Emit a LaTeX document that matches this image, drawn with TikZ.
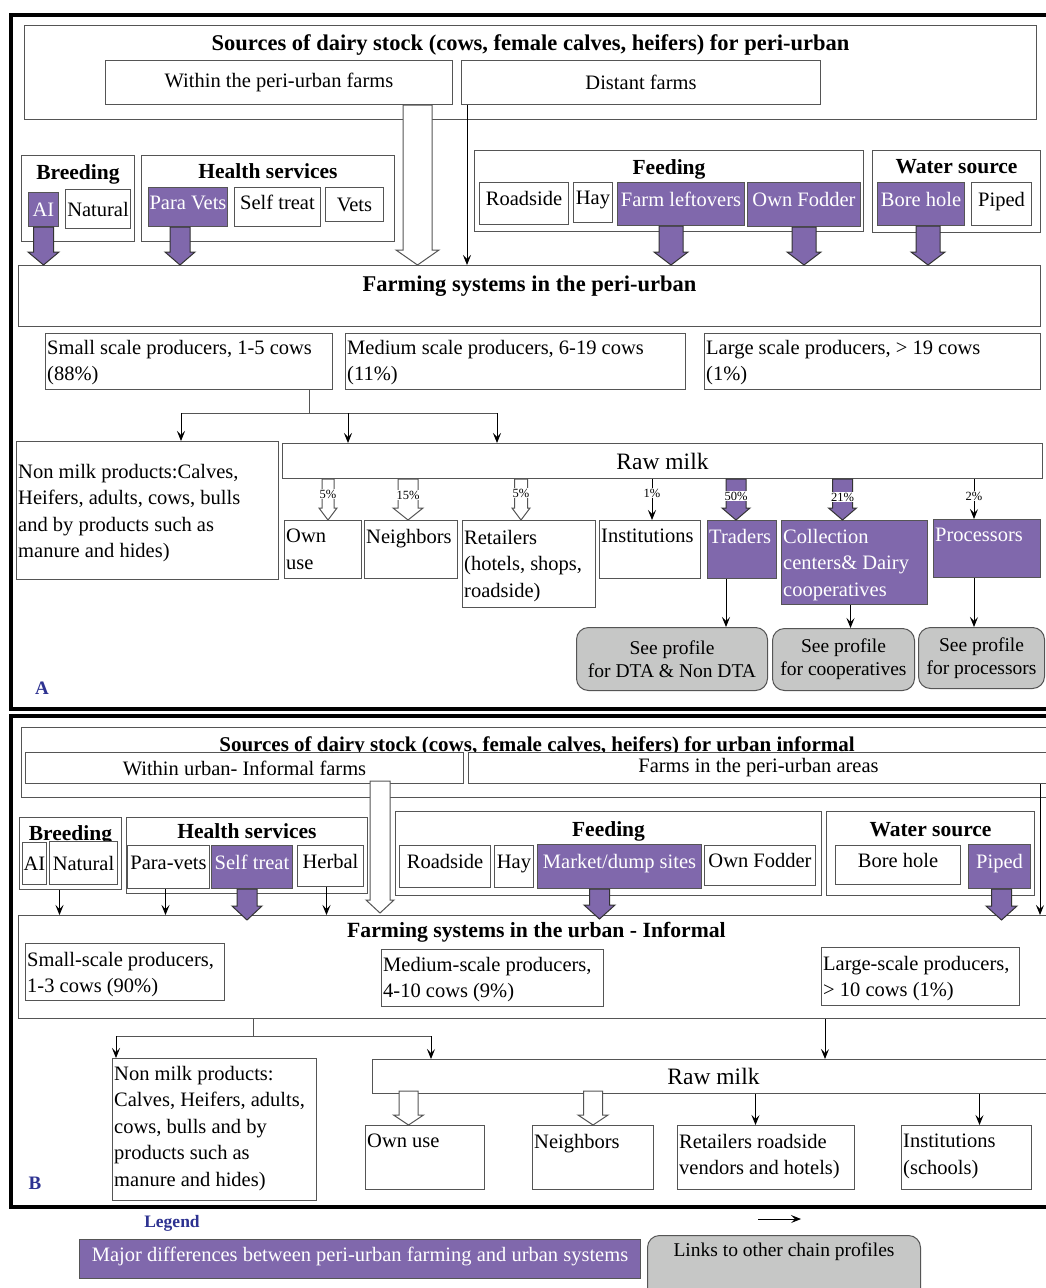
\documentclass[tikz,border=0pt]{standalone}
\usepackage{fontspec}
\setmainfont{Liberation Serif}
\usetikzlibrary{calc,arrows.meta}
\definecolor{purp}{RGB}{128,104,172}
\definecolor{greyfill}{RGB}{198,199,198}
\definecolor{edgegrey}{RGB}{85,85,85}
\definecolor{labblue}{RGB}{45,50,145}
\newcommand{\fatarrow}[6]{%
  \path (#2) coordinate (fa-s) (#3) coordinate (fa-t);
  \draw[#1] ($(fa-s)+(-#4,0)$) -- ($(fa-t)+(-#4,-#6)$) -- ($(fa-t)+(-#5,-#6)$) -- (fa-t)
    -- ($(fa-t)+(#5,-#6)$) -- ($(fa-t)+(#4,-#6)$) -- ($(fa-s)+(#4,0)$) -- cycle;}

\begin{document}
\begin{tikzpicture}[x=1pt,y=-1pt,
  cell/.style={draw=edgegrey, line width=1pt, fill=white, inner sep=0pt, anchor=north west, font=\fontsize{20.5}{26.5}\selectfont},
  purpcell/.style={cell, fill=purp, text=white},
  greycell/.style={cell, fill=greyfill, rounded corners=12pt, align=center, font=\fontsize{19.5}{23}\selectfont},
  raised/.style={text height=14pt, text depth=10pt},
  lbl/.style={inner sep=1pt, align=left, anchor=north west, font=\fontsize{20.5}{26.5}\selectfont},
  hdr/.style={inner sep=0pt, anchor=base, font=\fontsize{21.5}{24}\selectfont\bfseries},
  pct/.style={fill=white, inner sep=0.5pt, font=\fontsize{12.5}{14}\selectfont},
  arr/.style={draw=black, line width=0.9pt, -{Stealth[length=10pt,width=8pt,inset=4pt]}},
  hollowarrow/.style={draw=edgegrey, line width=1pt, fill=white},
  purparrow/.style={draw=black!80, line width=1pt, fill=purp},
  panelframe/.style={draw=black, line width=3.5pt},
  paneltag/.style={text=labblue, inner sep=0pt, font=\fontsize{19}{22}\selectfont\bfseries}
]
\useasboundingbox (0,0) rectangle (1046,1288);
\clip (0,0) rectangle (1046,1288);
\fill[white] (0,0) rectangle (1046,1288);

\draw[panelframe] (11,15) rectangle (1070,709);
\draw[panelframe] (11,716) rectangle (1070,1207);

\node[cell, minimum width=1012, minimum height=94] (srcA) at (24,25) {};
\node[hdr, font=\fontsize{22.5}{24}\selectfont\bfseries] (srcA-t) at ($(srcA.north)+(0,25)$) {Sources of dairy stock (cows, female calves, heifers) for peri-urban};
\node[cell, minimum width=347, minimum height=44] (withinA) at (105,60) {Within the peri-urban farms};
\node[cell, minimum width=359, minimum height=44] (distA) at (461,60) {Distant farms};

\node[cell, minimum width=113, minimum height=86] (breedA) at (21,155) {};
\node[hdr] (breedA-t) at ($(breedA.north)+(0,24)$) {Breeding};
\node[purpcell, minimum width=30, minimum height=34] (aiA) at (28,192) {AI};
\node[cell, minimum width=65, minimum height=39] (natA) at (65,189) {Natural};
\node[cell, minimum width=253, minimum height=86] (healthA) at (141,155) {};
\node[hdr] (healthA-t) at ($(healthA.north)+(0,23)$) {Health services};
\node[purpcell, raised, minimum width=79, minimum height=39] (pvA) at (148,187) {Para Vets};
\node[cell, raised, minimum width=86, minimum height=39] (stA) at (234,187) {Self treat};
\node[cell, minimum width=58, minimum height=34] (vetA) at (325,187) {Vets};

\node[cell, minimum width=389, minimum height=81] (feedA) at (474,150) {};
\node[hdr] (feedA-t) at ($(feedA.north)+(0,24)$) {Feeding};
\node[cell, raised, minimum width=89, minimum height=42] (roadA) at (479,182) {Roadside};
\node[cell, raised, minimum width=39, minimum height=40] (hayA) at (573,182) {Hay};
\node[purpcell, raised, minimum width=127, minimum height=43] (leftA) at (617,182) {Farm leftovers};
\node[purpcell, raised, minimum width=113, minimum height=44] (fodA) at (747,182) {Own Fodder};
\node[cell, minimum width=168, minimum height=82] (waterA) at (872,150) {};
\node[hdr] (waterA-t) at ($(waterA.north)+(0,23)$) {Water source};
\node[purpcell, raised, minimum width=87, minimum height=43] (boreA) at (877,182) {Bore hole};
\node[cell, raised, minimum width=60, minimum height=43] (pipeA) at (971,182) {Piped};

\node[cell, minimum width=1022, minimum height=61] (farmA) at (18,265) {};
\node[hdr, font=\fontsize{22.5}{24}\selectfont\bfseries] (farmA-t) at ($(farmA.north)+(0,26)$) {Farming systems in the peri-urban};
\node[cell, minimum width=287, minimum height=56] (smallA) at (45,333) {};
\node[lbl] (smallA-t) at ($(smallA.north west)+(1,6)$) {Small scale producers, 1-5 cows\\(88\%)};
\node[cell, minimum width=340, minimum height=56] (medA) at (345,333) {};
\node[lbl] (medA-t) at ($(medA.north west)+(1,6)$) {Medium scale producers, 6-19 cows\\(11\%)};
\node[cell, minimum width=336, minimum height=56] (largeA) at (704,333) {};
\node[lbl] (largeA-t) at ($(largeA.north west)+(1,6)$) {Large scale producers, > 19 cows\\(1\%)};

\node[cell, minimum width=262, minimum height=138] (nonA) at (16,441) {};
\node[lbl] (nonA-t) at ($(nonA.north west)+(1,22)$) {Non milk products:Calves,\\Heifers, adults, cows, bulls\\and by products such as\\manure and hides)};
\node[cell, minimum width=760, minimum height=35, font=\fontsize{23.5}{26}\selectfont] (rawA) at (282,443) {Raw milk};

\node[cell, minimum width=77, minimum height=58] (ownA) at (284,520) {};
\node[lbl] (ownA-t) at ($(ownA.north west)+(1,8)$) {Own\\use};
\node[cell, minimum width=93, minimum height=58] (neighA) at (364,520) {};
\node[lbl] (neighA-t) at ($(neighA.north west)+(1,8)$) {Neighbors};
\node[cell, minimum width=133, minimum height=87] (retA) at (462,520) {};
\node[lbl] (retA-t) at ($(retA.north west)+(1,9)$) {Retailers\\(hotels, shops,\\roadside)};
\node[cell, minimum width=101, minimum height=58] (instA) at (599,520) {};
\node[lbl] (instA-t) at ($(instA.north west)+(1,8)$) {Institutions};
\node[purpcell, minimum width=69, minimum height=58] (tradA) at (707,520) {};
\node[lbl, text=white] (tradA-t) at ($(tradA.north west)+(1,8)$) {Traders};
\node[purpcell, minimum width=146, minimum height=84] (collA) at (781,520) {};
\node[lbl, text=white] (collA-t) at ($(collA.north west)+(1,8)$) {Collection\\centers\& Dairy\\cooperatives};
\node[purpcell, minimum width=107, minimum height=58] (procA) at (933,519) {};
\node[lbl, text=white] (procA-t) at ($(procA.north west)+(1,8)$) {Processors};

\node[greycell, minimum width=191, minimum height=63] (dtaA) at (576,627) {See profile\\for DTA \& Non DTA};
\node[greycell, minimum width=142, minimum height=62] (coopA) at (772,628) {See profile\\for cooperatives};
\node[greycell, minimum width=126, minimum height=61] (procpA) at (918,627) {See profile\\for processors};

\fatarrow{hollowarrow}{$(withinA.south east)+(-35.5,0)$}{$(withinA.south east |- farmA.north)+(-35.5,0)$}{14.5}{21.5}{15}
\draw[arr] ($(distA.south west)+(6,0)$) -- ($(distA.south west |- farmA.north)+(6,0)$);
\fatarrow{purparrow}{aiA.south}{aiA.south |- farmA.north}{10}{15.5}{13}
\fatarrow{purparrow}{$(pvA.south)+(-8,0)$}{$(pvA.south |- farmA.north)+(-8,0)$}{10}{15}{13}
\fatarrow{purparrow}{$(leftA.south)+(-10,0)$}{$(leftA.south |- farmA.north)+(-10,0)$}{12}{17}{13}
\fatarrow{purparrow}{fodA.south}{fodA.south |- farmA.north}{12}{17}{13}
\fatarrow{purparrow}{$(boreA.south)+(7,0)$}{$(boreA.south |- farmA.north)+(7,0)$}{12}{17}{13}

\coordinate (brA) at (309,413);
\coordinate (brA1) at (181,413);
\coordinate (brA2) at (348,413);
\coordinate (brA3) at (497,413);
\draw[edgegrey, line width=0.9pt] (brA |- smallA.south) -- (brA);
\draw[edgegrey, line width=0.9pt] (brA1) -- (brA3);
\draw[arr] (brA1) -- (brA1 |- nonA.north);
\draw[arr] (brA2) -- (brA2 |- rawA.north);
\draw[arr] (brA3) -- (brA3 |- rawA.north);

\fatarrow{hollowarrow}{$(ownA.north |- rawA.south)+(5,0)$}{$(ownA.north)+(5,0)$}{6}{9}{12}
\node[pct] (ownA-p) at ($(ownA.north |- rawA.south)+(5,15)$) {5\%};
\fatarrow{hollowarrow}{$(neighA.north |- rawA.south)+(-3,0)$}{$(neighA.north)+(-3,0)$}{10}{15}{12}
\node[pct] (neighA-p) at ($(neighA.north |- rawA.south)+(-3,16)$) {15\%};
\fatarrow{hollowarrow}{$(retA.north |- rawA.south)+(-8,0)$}{$(retA.north)+(-8,0)$}{6.5}{9}{12}
\node[pct] (retA-p) at ($(retA.north |- rawA.south)+(-8,14)$) {5\%};
\draw[arr] ($(instA.north |- rawA.south)+(2,0)$) -- ($(instA.north)+(2,0)$);
\node[pct] (instA-p) at ($(instA.north |- rawA.south)+(2,14)$) {1\%};
\fatarrow{purparrow}{$(tradA.north |- rawA.south)+(-6,0)$}{$(tradA.north)+(-6,0)$}{10}{14}{12}
\node[pct] (tradA-p) at ($(tradA.north |- rawA.south)+(-6,17)$) {50\%};
\fatarrow{purparrow}{$(collA.north |- rawA.south)+(-12,0)$}{$(collA.north)+(-12,0)$}{10}{14}{12}
\node[pct] (collA-p) at ($(collA.north |- rawA.south)+(-12,18)$) {21\%};
\draw[arr] ($(procA.north |- rawA.south)+(-13,0)$) -- ($(procA.north)+(-13,0)$);
\node[pct] (procA-p) at ($(procA.north |- rawA.south)+(-13,17)$) {2\%};

\draw[arr] ($(tradA.south)+(-16,0)$) -- ($(tradA.south |- dtaA.north)+(-16,0)$);
\draw[arr] ($(collA.south)+(-4,0)$) -- ($(collA.south |- coopA.north)+(-4,0)$);
\draw[arr] ($(procA.south)+(-13,0)$) -- ($(procA.south |- procpA.north)+(-13,0)$);

\node[paneltag] (tagA) at (42,688) {A};

\node[cell, minimum width=1031, minimum height=70] (srcB) at (21,727) {};
\node[hdr, font=\fontsize{21}{24}\selectfont\bfseries] (srcB-t) at ($(srcB.north)+(0,24)$) {Sources of dairy stock (cows, female calves, heifers) for urban informal};
\node[cell, minimum width=438, minimum height=31] (withinB) at (25,752) {Within urban- Informal farms};
\node[cell, minimum width=580, minimum height=31] (farmsB) at (468,752) {Farms in the peri-urban areas};

\node[cell, minimum width=102, minimum height=72] (breedB) at (19,817) {};
\node[hdr] (breedB-t) at ($(breedB.north)+(0,23)$) {Breeding};
\node[cell, minimum width=24, minimum height=42] (aiB) at (22,842) {AI};
\node[cell, minimum width=68, minimum height=43] (natB) at (49,841) {Natural};
\node[cell, minimum width=241, minimum height=76] (healthB) at (126,817) {};
\node[hdr] (healthB-t) at ($(healthB.north)+(0,21)$) {Health services};
\node[cell, raised, minimum width=82, minimum height=43] (pvB) at (127,845) {Para-vets};
\node[purpcell, raised, minimum width=81, minimum height=43] (stB) at (211,845) {Self treat};
\node[cell, raised, minimum width=66, minimum height=41] (herbB) at (297,845) {Herbal};

\node[cell, minimum width=426, minimum height=84] (feedB) at (395,811) {};
\node[hdr] (feedB-t) at ($(feedB.north)+(0,25)$) {Feeding};
\node[cell, raised, minimum width=91, minimum height=42] (roadB) at (399,845) {Roadside};
\node[cell, raised, minimum width=39, minimum height=42] (hayB) at (494,845) {Hay};
\node[purpcell, raised, minimum width=164, minimum height=44] (mktB) at (537,844) {Market/dump sites};
\node[cell, raised, minimum width=111, minimum height=40] (fodB) at (704,845) {Own Fodder};
\node[cell, minimum width=208, minimum height=84] (waterB) at (826,811) {};
\node[hdr] (waterB-t) at ($(waterB.north)+(0,25)$) {Water source};
\node[cell, raised, minimum width=125, minimum height=39] (boreB) at (835,845) {Bore hole};
\node[purpcell, raised, minimum width=62, minimum height=44] (pipeB) at (968,844) {Piped};

\node[cell, minimum width=1036, minimum height=103] (farmB) at (18,915) {};
\node[hdr, font=\fontsize{21.7}{24}\selectfont\bfseries] (farmB-t) at ($(farmB.north)+(0,22)$) {Farming systems in the urban - Informal};
\node[cell, minimum width=199, minimum height=57] (smallB) at (25,943) {};
\node[lbl] (smallB-t) at ($(smallB.north west)+(1,8)$) {Small-scale producers,\\1-3 cows (90\%)};
\node[cell, minimum width=222, minimum height=57] (medB) at (381,949) {};
\node[lbl] (medB-t) at ($(medB.north west)+(1,7)$) {Medium-scale producers,\\4-10 cows (9\%)};
\node[cell, minimum width=198, minimum height=58] (largeB) at (821,947) {};
\node[lbl] (largeB-t) at ($(largeB.north west)+(1,8)$) {Large-scale producers,\\> 10 cows (1\%)};

\fatarrow{hollowarrow}{$(withinB.south east)+(-84,-3)$}{$(withinB.south east |- farmB.north)+(-84,-2)$}{10}{14}{13}
\draw[arr] ($(farmsB.south east)+(-9,0)$) -- ($(farmsB.south east |- farmB.north)+(-9,0)$);
\draw[arr] ($(breedB.south)+(-11,0)$) -- ($(breedB.south |- farmB.north)+(-11,0)$);
\draw[arr] ($(pvB.south)+(-3,0)$) -- ($(pvB.south |- farmB.north)+(-3,0)$);
\fatarrow{purparrow}{$(stB.south)+(-5,0)$}{$(stB.south |- farmB.north)+(-5,5)$}{10}{15}{14}
\draw[arr] ($(herbB.south)+(-4,0)$) -- ($(herbB.south |- farmB.north)+(-4,0)$);
\fatarrow{purparrow}{$(mktB.south)+(-20,0)$}{$(mktB.south |- farmB.north)+(-20,4)$}{10}{15.5}{14}
\fatarrow{purparrow}{$(pipeB.south)+(2,0)$}{$(pipeB.south |- farmB.north)+(2,5)$}{10}{15.5}{14}

\node[cell, minimum width=204, minimum height=142] (nonB) at (112,1058) {};
\node[lbl] (nonB-t) at ($(nonB.north west)+(1,7)$) {Non milk products:\\Calves, Heifers, adults,\\cows, bulls and by\\products such as\\manure and hides)};
\node[cell, minimum width=682, minimum height=34, font=\fontsize{23.5}{26}\selectfont] (rawB) at (372,1059) {Raw milk};
\node[cell, minimum width=119, minimum height=64] (ownB) at (365,1125) {};
\node[lbl] (ownB-t) at ($(ownB.north west)+(1,8)$) {Own use};
\node[cell, minimum width=121, minimum height=64] (neighB) at (532,1125) {};
\node[lbl] (neighB-t) at ($(neighB.north west)+(1,8)$) {Neighbors};
\node[cell, minimum width=177, minimum height=64] (retB) at (677,1125) {};
\node[lbl] (retB-t) at ($(retB.north west)+(1,8)$) {Retailers roadside\\vendors and hotels)};
\node[cell, minimum width=130, minimum height=64] (instB) at (901,1125) {};
\node[lbl] (instB-t) at ($(instB.north west)+(1,8)$) {Institutions\\(schools)};

\coordinate (brB) at (253,1036);
\coordinate (brB1) at (116,1036);
\coordinate (brB2) at (431,1036);
\draw[edgegrey, line width=0.9pt] (brB |- farmB.south) -- (brB);
\draw[edgegrey, line width=0.9pt] (brB1) -- (brB2);
\draw[arr] (brB1) -- (brB1 |- nonB.north);
\draw[arr] (brB2) -- (brB2 |- rawB.north);
\draw[arr] ($(largeB.south west |- farmB.south)+(4,0)$) -- ($(largeB.south west |- rawB.north)+(4,0)$);

\fatarrow{hollowarrow}{$(ownB.north |- rawB.south)+(-16.5,-3)$}{$(ownB.north)+(-16.5,0)$}{9.5}{15}{10}
\fatarrow{hollowarrow}{$(neighB.north |- rawB.south)+(0,-3)$}{neighB.north}{9.5}{15}{10}
\draw[arr] ($(retB.north |- rawB.south)+(-10.5,0)$) -- ($(retB.north)+(-10.5,0)$);
\draw[arr] ($(instB.north |- rawB.south)+(13,0)$) -- ($(instB.north)+(13,0)$);

\node[paneltag] (tagB) at (35,1183) {B};

\node[paneltag, font=\fontsize{17.5}{20}\selectfont\bfseries] (legT) at (172,1223) {Legend};
\coordinate (legS) at (758,1219);
\coordinate (legE) at (801,1219);
\draw[arr] (legS) -- (legE);
\node[purpcell, raised, minimum width=561, minimum height=39] (legP) at (79,1239) {Major differences between peri-urban farming and urban systems};
\node[cell, fill=greyfill, rounded corners=12pt, minimum width=273, minimum height=75] (legG) at (647,1235) {};
\node[inner sep=0pt, font=\fontsize{19.5}{23}\selectfont] (legG-t) at ($(legG.north)+(0,17)$) {Links to other chain profiles};
\end{tikzpicture}
\end{document}
